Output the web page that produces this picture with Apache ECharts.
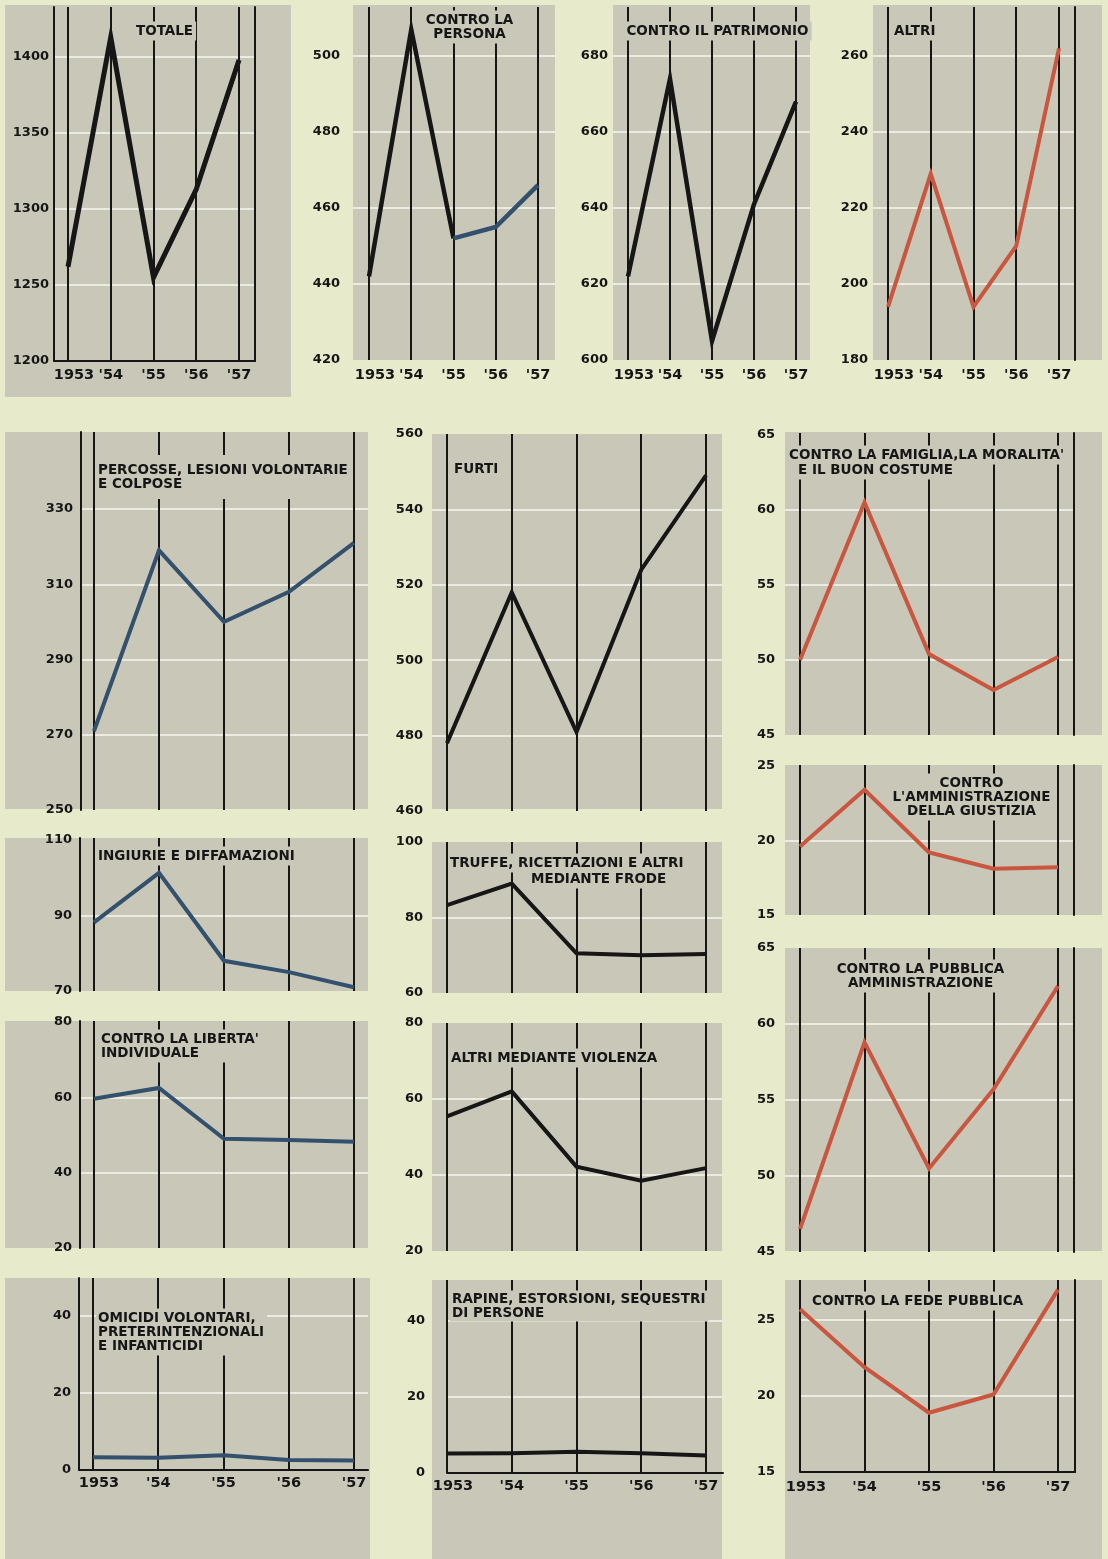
<!DOCTYPE html>
<html>
<head>
<meta charset="utf-8">
<script src="https://cdn.jsdelivr.net/npm/echarts@6/dist/echarts.min.js"></script>
<style>
html,body{margin:0;padding:0;background:#e7eacb;}
#chart{width:1108px;height:1559px;}
</style>
</head>
<body>
<div id="chart"></div>
<script>
// ---------------- DATA ----------------
const years = [1953, 1954, 1955, 1956, 1957];
const yearLabels = ['1953', "'54", "'55", "'56", "'57"];

const totale           = [1262, 1413, 1255, 1313, 1398];
const controPersona    = [442, 507, 452, 455, 466];
const controPatrimonio = [622, 674, 605, 641, 668];
const altri            = [194, 229, 194, 210, 262];

const percosse     = [271, 319, 300, 308, 321];
const ingiurie     = [88.2, 101.3, 78, 75, 71];
const liberta      = [59.6, 62.5, 49, 48.7, 48.2];
const omicidi      = [3.3, 3.2, 3.8, 2.6, 2.5];

const furti        = [478, 518, 481, 524, 549];
const truffe       = [83.3, 89, 70.5, 70, 70.3];
const violenza     = [55.4, 62, 42.2, 38.5, 41.8];
const rapine       = [5.1, 5.2, 5.6, 5.2, 4.6];

const famiglia     = [50, 60.5, 50.4, 48, 50.2];
const giustizia    = [19.6, 23.4, 19.2, 18.1, 18.2];
const pubblicaAmm  = [46.5, 58.8, 50.5, 55.7, 62.5];
const fedePubblica = [25.7, 21.9, 18.9, 20.1, 27.0];

const ticksTotale     = [1200, 1250, 1300, 1350, 1400];
const ticksPersona    = [420, 440, 460, 480, 500];
const ticksPatrimonio = [600, 620, 640, 660, 680];
const ticksAltri      = [180, 200, 220, 240, 260];
const ticksPercosse   = [250, 270, 290, 310, 330];
const ticksIngiurie   = [70, 90, 110];
const ticksLiberta    = [20, 40, 60, 80];
const ticksOmicidi    = [0, 20, 40];
const ticksFurti      = [460, 480, 500, 520, 540, 560];
const ticksTruffe     = [60, 80, 100];
const ticksViolenza   = [20, 40, 60, 80];
const ticksRapine     = [0, 20, 40];
const ticksFamiglia   = [45, 50, 55, 60, 65];
const ticksGiustizia  = [15, 20, 25];
const ticksPubblica   = [45, 50, 55, 60, 65];
const ticksFede       = [15, 20, 25];

// ---------------- STYLE ----------------
const CREAM = '#e7eacb';
const GRAY = '#c8c7b8';
const GRIDW = '#ebebe2';
const INK = '#161616';
const STEEL = '#33506c';
const RED = '#c9563f';
const FONT = '"DejaVu Sans", "Liberation Sans", sans-serif';

// layout of each panel (pixels), data referenced by name
const panels = [
  {data: totale, ticks: ticksTotale, color: INK, lw: 5,
   bg:[5,5,286,392], xl:54, xr:255, x53:68, x57:239, top:7, p0:361, p1:57,
   yLine:true, xLine:true, rLine:true, xLab:true, yMargin:5, xMargin:7,
   titles:[{t:'TOTALE', x:165, y:31, a:'center'}]},
  {data: controPersona, ticks: ticksPersona, color: INK, color2: STEEL, splitIdx: 2, lw: 4.5,
   bg:[353,5,202,355], xl:353, xr:555, x53:369, x57:538, top:7, p0:360, p1:56,
   xLab:true, yMargin:13, xMargin:8,
   titles:[{t:'CONTRO LA\nPERSONA', x:470, y:27, a:'center'}]},
  {data: controPatrimonio, ticks: ticksPatrimonio, color: INK, lw: 4.5,
   bg:[613,5,197,355], xl:613, xr:810, x53:628, x57:796, top:7, p0:360, p1:56,
   xLab:true, yMargin:5, xMargin:8,
   titles:[{t:'CONTRO IL PATRIMONIO', x:718, y:31, a:'center'}]},
  {data: altri, ticks: ticksAltri, color: RED, lw: 4,
   bg:[873,5,229,355], xl:873, xr:1075, x53:888, x57:1059, top:7, p0:360, p1:56,
   rLine:true, xLab:true, yMargin:5, xMargin:8,
   titles:[{t:'ALTRI', x:892, y:31, a:'left'}]},

  {data: percosse, ticks: ticksPercosse, color: STEEL, lw: 4,
   bg:[5,432,363,377], xl:81, xr:368, x53:94, x57:354, top:432, p0:810, p1:509,
   yLine:true, yMargin:8,
   titles:[{t:'PERCOSSE, LESIONI VOLONTARIE\nE COLPOSE', x:96, y:477, a:'left', pad:[14,3,2,2]}]},
  {data: ingiurie, ticks: ticksIngiurie, color: STEEL, lw: 4,
   bg:[5,838,363,153], xl:80, xr:368, x53:94, x57:354, top:838, p0:991, p1:840,
   yLine:true, yMargin:8,
   titles:[{t:'INGIURIE E DIFFAMAZIONI', x:96, y:856, a:'left'}]},
  {data: liberta, ticks: ticksLiberta, color: STEEL, lw: 4,
   bg:[5,1021,363,227], xl:80, xr:368, x53:94, x57:354, top:1021, p0:1248, p1:1022,
   yLine:true, yMargin:8,
   titles:[{t:"CONTRO LA LIBERTA'\nINDIVIDUALE", x:99, y:1046, a:'left'}]},
  {data: omicidi, ticks: ticksOmicidi, color: STEEL, lw: 4,
   bg:[5,1278,365,281], xl:79, xr:368, x53:93, x57:354, top:1278, p0:1470, p1:1316,
   yLine:true, xLine:true, xLab:true, yMargin:8, xMargin:6,
   titles:[{t:'OMICIDI VOLONTARI,\nPRETERINTENZIONALI\nE INFANTICIDI', x:96, y:1332, a:'left'}]},

  {data: furti, ticks: ticksFurti, color: INK, lw: 4,
   bg:[432,434,290,375], xl:432, xr:722, x53:447, x57:706, top:434, p0:811, p1:434,
   yMargin:9,
   titles:[{t:'FURTI', x:452, y:469, a:'left'}]},
  {data: truffe, ticks: ticksTruffe, color: INK, lw: 4,
   bg:[432,842,290,151], xl:432, xr:722, x53:447, x57:706, top:842, p0:993, p1:842,
   yMargin:9,
   titles:[{t:'TRUFFE, RICETTAZIONI E ALTRI', x:448, y:863, a:'left'},
           {t:'MEDIANTE FRODE', x:529, y:879, a:'left'}]},
  {data: violenza, ticks: ticksViolenza, color: INK, lw: 4,
   bg:[432,1023,290,228], xl:432, xr:722, x53:447, x57:706, top:1023, p0:1251, p1:1023,
   yMargin:9,
   titles:[{t:'ALTRI MEDIANTE VIOLENZA', x:449, y:1058, a:'left'}]},
  {data: rapine, ticks: ticksRapine, color: INK, lw: 4,
   bg:[432,1280,290,279], xl:447, xr:723, x53:447, x57:706, top:1280, p0:1473, p1:1321,
   xLine:true, xLab:true, yMargin:22, xMargin:6,
   titles:[{t:'RAPINE, ESTORSIONI, SEQUESTRI\nDI PERSONE', x:450, y:1306, a:'left', pad:[3,3,0,2]}]},

  {data: famiglia, ticks: ticksFamiglia, color: RED, lw: 4,
   bg:[785,432,317,303], xl:785, xr:1074, x53:800, x57:1058, top:433, p0:735, p1:435,
   rLine:true, yMargin:10,
   titles:[{t:"CONTRO LA FAMIGLIA,LA MORALITA'", x:787, y:455, a:'left'},
           {t:'E IL BUON COSTUME', x:796, y:470, a:'left'}]},
  {data: giustizia, ticks: ticksGiustizia, color: RED, lw: 4,
   bg:[785,765,317,150], xl:785, xr:1074, x53:800, x57:1058, top:765, p0:915, p1:766,
   rLine:true, yMargin:10,
   titles:[{t:"CONTRO\nL'AMMINISTRAZIONE\nDELLA GIUSTIZIA", x:972, y:797, a:'center'}]},
  {data: pubblicaAmm, ticks: ticksPubblica, color: RED, lw: 4,
   bg:[785,948,317,303], xl:785, xr:1074, x53:800, x57:1058, top:948, p0:1252, p1:948,
   rLine:true, yMargin:10,
   titles:[{t:'CONTRO LA PUBBLICA\nAMMINISTRAZIONE', x:921, y:976, a:'center'}]},
  {data: fedePubblica, ticks: ticksFede, color: RED, lw: 4,
   bg:[785,1280,317,279], xl:800, xr:1075, x53:800, x57:1058, top:1280, p0:1472, p1:1320,
   xLine:true, rLine:true, xLab:true, yMargin:25, xMargin:8,
   titles:[{t:'CONTRO LA FEDE PUBBLICA', x:810, y:1301, a:'left'}]}
];

// ---------------- BUILD OPTION ----------------
const option = {
  animation: false,
  backgroundColor: CREAM,
  grid: [], xAxis: [], yAxis: [], series: [],
  graphic: { elements: [] }
};

const lineCommon = { color: INK, width: 2 };

panels.forEach((p, i) => {
  const dx = (p.x57 - p.x53) / 4;
  const xmin = 1953 - (p.x53 - p.xl) / dx;
  const xmax = 1957 + (p.xr - p.x57) / dx;
  const t0 = p.ticks[0], t1 = p.ticks[p.ticks.length - 1];
  const ppu = (p.p0 - p.p1) / (t1 - t0);
  const ymin = t0;
  const ymax = t0 + (p.p0 - p.top) / ppu;

  // background panel
  option.graphic.elements.push({
    type: 'rect', z: -10, silent: true,
    shape: { x: p.bg[0], y: p.bg[1], width: p.bg[2], height: p.bg[3] },
    style: { fill: GRAY }
  });

  option.grid.push({ left: p.xl, top: p.top, width: p.xr - p.xl, height: p.p0 - p.top });

  option.xAxis.push({
    type: 'value', gridIndex: i, min: xmin, max: xmax, z: 3,
    axisLine: { show: !!p.xLine, onZero: false, lineStyle: lineCommon },
    axisTick: { show: false },
    splitLine: { show: false },
    axisLabel: {
      show: !!p.xLab,
      customValues: years,
      margin: p.xMargin || 7,
      formatter: v => {
        const k = years.indexOf(Math.round(v));
        if (k < 0) return '';
        return k === 0 ? '{f|' + yearLabels[k] + '}' : '{n|' + yearLabels[k] + '}';
      },
      rich: {
        f: { fontFamily: FONT, fontWeight: 'bold', fontSize: 14.5, color: INK, padding: [0, 0, 0, 12] },
        n: { fontFamily: FONT, fontWeight: 'bold', fontSize: 14.5, color: INK }
      }
    }
  });

  option.yAxis.push({
    type: 'value', gridIndex: i, min: ymin, max: ymax, z: 3,
    axisLine: { show: !!p.yLine, lineStyle: lineCommon },
    axisTick: { show: false },
    splitLine: { show: false },
    axisLabel: {
      customValues: p.ticks,
      margin: p.yMargin,
      formatter: v => String(v),
      fontFamily: FONT, fontWeight: 'bold', fontSize: 13, color: INK
    }
  });
  option.yAxis.push({
    type: 'value', gridIndex: i, position: 'right', min: ymin, max: ymax, z: 3,
    axisLine: { show: !!p.rLine, lineStyle: lineCommon },
    axisTick: { show: false },
    splitLine: { show: false },
    axisLabel: { show: false }
  });

  // grid lines (white horizontals, black verticals at each year)
  const span = ymax - ymin;
  const hTicks = p.ticks.filter(t => t > ymin + span * 0.01 && t < ymax - span * 0.02);
  option.series.push({
    type: 'line', xAxisIndex: i, yAxisIndex: 2 * i, data: [], silent: true, z: 1,
    markLine: {
      silent: true, z: 1, symbol: ['none', 'none'], animation: false,
      label: { show: false }, emphasis: { disabled: true },
      data: hTicks.map(t => ({ yAxis: t, lineStyle: { color: GRIDW, width: 2, type: 'solid' } }))
        .concat(years.map(y => ({ xAxis: y, lineStyle: { color: INK, width: 2, type: 'solid' } })))
    }
  });

  // data line(s)
  const pts = years.map((y, k) => [y, p.data[k]]);
  const segs = p.splitIdx != null
    ? [{ d: pts.slice(0, p.splitIdx + 1), c: p.color }, { d: pts.slice(p.splitIdx), c: p.color2 }]
    : [{ d: pts, c: p.color }];
  segs.forEach(s => {
    option.series.push({
      type: 'line', xAxisIndex: i, yAxisIndex: 2 * i, z: 20,
      data: s.d, showSymbol: false, symbol: 'none', silent: true,
      lineStyle: { color: s.c, width: p.lw, join: 'miter', cap: 'butt' }
    });
  });

  // titles
  p.titles.forEach(tt => {
    option.graphic.elements.push({
      type: 'text', z: 10, silent: true,
      style: {
        text: tt.t, x: tt.x, y: tt.y,
        textAlign: tt.a, textVerticalAlign: 'middle',
        font: 'bold 13.5px ' + FONT, fill: INK, lineHeight: 14,
        backgroundColor: GRAY, padding: tt.pad || [3, 3, 2, 2]
      }
    });
  });
});

const chart = echarts.init(document.getElementById('chart'), null, { renderer: 'canvas' });
chart.setOption(option);
</script>
</body>
</html>
